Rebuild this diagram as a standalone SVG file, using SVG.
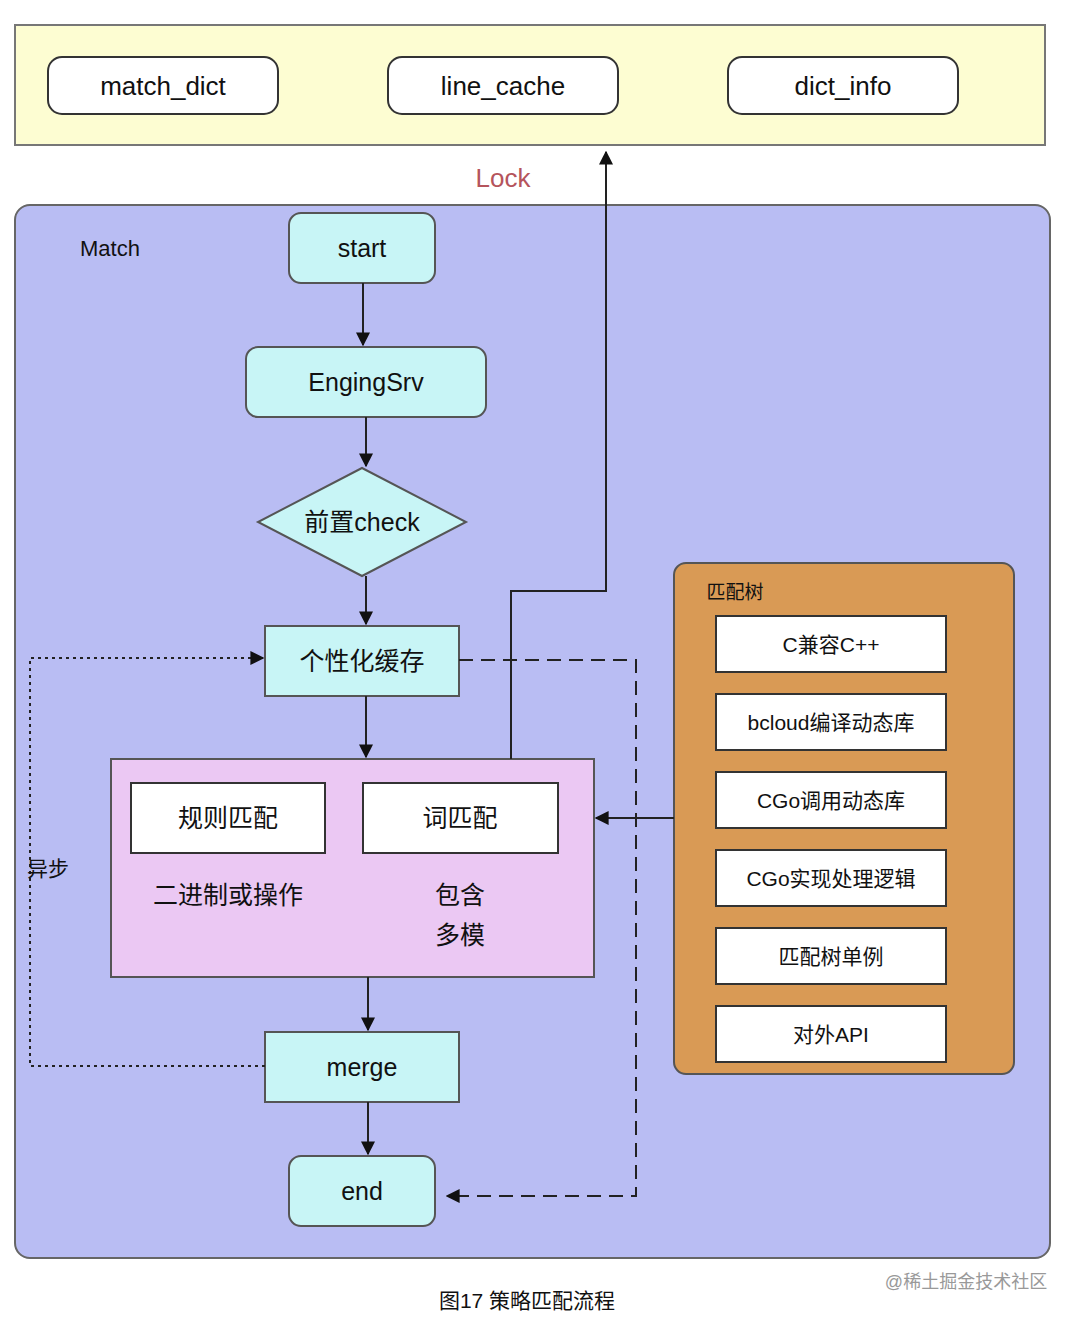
<svg xmlns="http://www.w3.org/2000/svg" width="1080" height="1326" viewBox="0 0 1080 1326">
<style>
text{font-family:"Liberation Sans","Noto Sans CJK SC",sans-serif;fill:#111;text-anchor:middle;dominant-baseline:central}
.t{fill:#fff;stroke:#333;stroke-width:2}
.c{fill:#c8f5f6;stroke:#555;stroke-width:2}
.l{fill:none;stroke:#222;stroke-width:2}
</style>
<defs><marker id="a" viewBox="0 0 10 10" refX="9" refY="5" markerWidth="7" markerHeight="7" orient="auto"><path d="M0,0L10,5L0,10z" fill="#111"/></marker></defs>
<rect width="1080" height="1326" fill="#fff"/>
<rect x="15" y="25" width="1030" height="120" fill="#fdfdd2" stroke="#777" stroke-width="2"/>
<g id="match_dict"><rect class="t" x="48" y="57" width="230" height="57" rx="14"/><text x="163" y="86" font-size="26">match_dict</text></g>
<g id="line_cache"><rect class="t" x="388" y="57" width="230" height="57" rx="14"/><text x="503" y="86" font-size="26">line_cache</text></g>
<g id="dict_info"><rect class="t" x="728" y="57" width="230" height="57" rx="14"/><text x="843" y="86" font-size="26">dict_info</text></g>
<text x="503" y="178" font-size="26" style="fill:#b5545c">Lock</text>
<rect x="15" y="205" width="1035" height="1053" rx="15" fill="#b9bdf3" stroke="#666" stroke-width="2"/>
<text x="110" y="248" font-size="22">Match</text>
<g id="start"><rect class="c" x="289" y="213" width="146" height="70" rx="12"/><text x="362" y="248" font-size="25">start</text></g>
<g id="EngingSrv"><rect class="c" x="246" y="347" width="240" height="70" rx="12"/><text x="366" y="382" font-size="25">EngingSrv</text></g>
<g id="check"><polygon class="c" points="362,468 466,522 362,576 258,522"/><text x="362" y="522" font-size="25">前置check</text></g>
<g id="cache"><rect class="c" x="265" y="626" width="194" height="70"/><text x="362" y="661" font-size="25">个性化缓存</text></g>
<g id="match"><rect x="111" y="759" width="483" height="218" fill="#ebc8f3" stroke="#555" stroke-width="2"/>
<rect class="t" x="131" y="783" width="194" height="70"/><text x="228" y="818" font-size="25">规则匹配</text>
<rect class="t" x="363" y="783" width="195" height="70"/><text x="460" y="818" font-size="25">词匹配</text>
<text x="228" y="895" font-size="25">二进制或操作</text><text x="460" y="895" font-size="25">包含</text><text x="460" y="935" font-size="25">多模</text></g>
<g id="merge"><rect class="c" x="265" y="1032" width="194" height="70"/><text x="362" y="1067" font-size="25">merge</text></g>
<g id="end"><rect class="c" x="289" y="1156" width="146" height="70" rx="12"/><text x="362" y="1191" font-size="25">end</text></g>
<g id="tree"><rect x="674" y="563" width="340" height="511" rx="12" fill="#d99a55" stroke="#555" stroke-width="2"/>
<text x="735" y="592" font-size="19">匹配树</text>
<rect class="t" x="716" y="616" width="230" height="56"/><text x="831" y="644" font-size="21">C兼容C++</text>
<rect class="t" x="716" y="694" width="230" height="56"/><text x="831" y="722" font-size="21">bcloud编译动态库</text>
<rect class="t" x="716" y="772" width="230" height="56"/><text x="831" y="800" font-size="21">CGo调用动态库</text>
<rect class="t" x="716" y="850" width="230" height="56"/><text x="831" y="878" font-size="21">CGo实现处理逻辑</text>
<rect class="t" x="716" y="928" width="230" height="56"/><text x="831" y="956" font-size="21">匹配树单例</text>
<rect class="t" x="716" y="1006" width="230" height="56"/><text x="831" y="1034" font-size="21">对外API</text></g>
<g id="connectors">
<path class="l" d="M363,283V345" marker-end="url(#a)"/>
<path class="l" d="M366,417V466" marker-end="url(#a)"/>
<path class="l" d="M366,576V624" marker-end="url(#a)"/>
<path class="l" d="M366,696V757" marker-end="url(#a)"/>
<path class="l" d="M368,977V1030" marker-end="url(#a)"/>
<path class="l" d="M368,1102V1154" marker-end="url(#a)"/>
<path class="l" d="M511,759V591H606V152" marker-end="url(#a)"/>
<path class="l" d="M674,818H596" marker-end="url(#a)"/>
<path class="l" d="M459,660H636V1196H447" stroke-dasharray="14,8" marker-end="url(#a)"/>
<path class="l" d="M265,1066H30V658H263" stroke-dasharray="3,4" marker-end="url(#a)"/>
</g>
<text x="48" y="868" font-size="21">异步</text>
<text x="527" y="1300" font-size="21">图17 策略匹配流程</text>
<text x="966" y="1282" font-size="18" style="fill:#999">@稀土掘金技术社区</text>
</svg>
